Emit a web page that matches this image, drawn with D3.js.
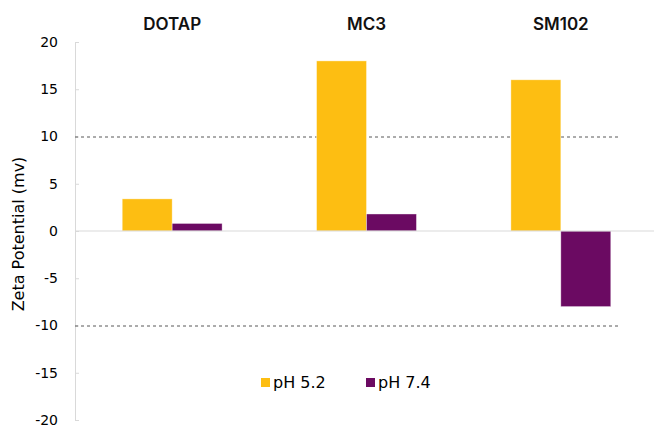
<!DOCTYPE html>
<html>
<head>
<meta charset="utf-8">
<script src="https://cdn.jsdelivr.net/npm/d3@7"></script>
<style>
  html, body { margin: 0; padding: 0; background: #fff; }
  svg { display: block; }
</style>
</head>
<body>
<svg id="chart" width="654" height="428"></svg>
<script>
const categories = ["DOTAP", "MC3", "SM102"];
const seriesNames = ["pH 5.2", "pH 7.4"];
const ph52 = [3.4, 18, 16];
const ph74 = [0.8, 1.8, -8];
const yTicks = [20, 15, 10, 5, 0, -5, -10, -15, -20];
const refLines = [10, -10];
const colors = ["#FDBE12", "#6B0A62"];

const svg = d3.select("#chart");
const W = 654, H = 428;

const y = d3.scaleLinear().domain([-20, 20]).range([420, 42]);
const x0 = d3.scaleBand().domain(categories).range([75, 658]).padding(0);
const bw = x0.bandwidth();
const x1 = d3.scaleBand().domain(seriesNames).range([bw * 0.243, bw * 0.757]).padding(0);

const data = categories.map((c, i) => ({ cat: c, vals: [ph52[i], ph74[i]] }));

// y axis
const yAxis = d3.axisLeft(y).tickValues(yTicks).tickSize(-4).tickPadding(17).tickFormat(d => String(d));
const gy = svg.append("g").attr("transform", "translate(75,0)").call(yAxis);
gy.select(".domain").attr("stroke", "#d9d9d9");
gy.selectAll(".tick line").attr("stroke", "#d9d9d9");
gy.selectAll(".tick text")
  .attr("font-family", "'DejaVu Sans', sans-serif")
  .attr("font-size", 14).attr("fill", "#000");

// reference dashed lines
svg.selectAll(".ref").data(refLines).enter().append("line")
  .attr("x1", 75).attr("x2", 618)
  .attr("y1", d => y(d) + 0.5).attr("y2", d => y(d) + 0.5)
  .attr("stroke", "#595959").attr("stroke-width", 1).attr("stroke-dasharray", "3,3");

// bars
const groups = svg.selectAll(".grp").data(data).enter().append("g")
  .attr("transform", d => `translate(${x0(d.cat)},0)`);
groups.selectAll("rect").data(d => d.vals.map((v, j) => ({ s: seriesNames[j], v, j })))
  .enter().append("rect")
  .attr("x", d => x1(d.s))
  .attr("width", x1.bandwidth())
  .attr("y", d => y(Math.max(0, d.v)))
  .attr("height", d => Math.abs(y(d.v) - y(0)))
  .attr("fill", d => colors[d.j])
  .attr("stroke", "#fff").attr("stroke-opacity", 0.5).attr("stroke-width", 0.75);

// zero baseline
svg.append("line").attr("x1", 75).attr("x2", W)
  .attr("y1", y(0)).attr("y2", y(0))
  .attr("stroke", "#d9d9d9").attr("stroke-width", 1.2);

// category titles
svg.selectAll(".cat").data(categories).enter().append("text")
  .attr("x", d => x0(d) + bw / 2).attr("y", 30)
  .attr("text-anchor", "middle")
  .attr("font-family", "Inter, 'DejaVu Sans', sans-serif")
  .attr("font-weight", 600).attr("font-size", 17).attr("fill", "#111")
  .text(d => d);

// y axis title
svg.append("text")
  .attr("transform", `translate(24,234) rotate(-90)`)
  .attr("text-anchor", "middle")
  .attr("font-family", "'DejaVu Sans', sans-serif")
  .attr("font-size", 16).attr("fill", "#000")
  .text("Zeta Potential (mv)");

// legend
const legX = [261, 366];
const leg = svg.selectAll(".leg").data(seriesNames).enter().append("g")
  .attr("transform", (d, i) => `translate(${legX[i]},378)`);
leg.append("rect").attr("width", 9).attr("height", 9).attr("fill", (d, i) => colors[i]);
leg.append("text").attr("x", 12).attr("y", 10)
  .attr("font-family", "'DejaVu Sans', sans-serif")
  .attr("font-size", 16).attr("fill", "#000")
  .text(d => d);
</script>
</body>
</html>
